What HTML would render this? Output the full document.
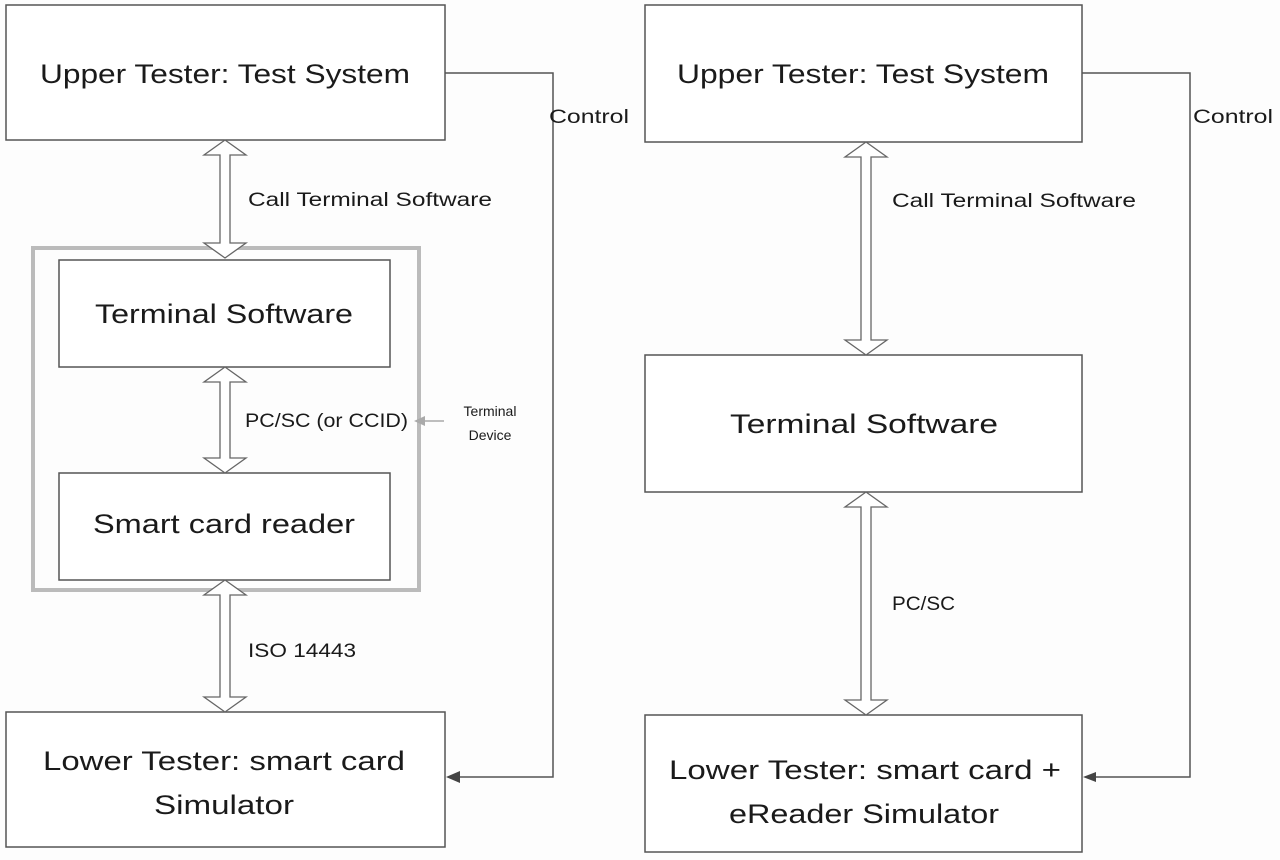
<!DOCTYPE html>
<html><head><meta charset="utf-8"><style>html,body{margin:0;padding:0;background:#fff}svg{display:block}</style></head>
<body>
<svg width="1280" height="860" viewBox="0 0 1280 860" xmlns="http://www.w3.org/2000/svg" font-family="Liberation Sans, sans-serif" fill="#1a1a1a">
<rect width="1280" height="860" fill="#fdfdfd"/>
<g fill="#fff" stroke="#555" stroke-width="1.5">
<rect x="6" y="5" width="439" height="135"/>
<rect x="33" y="248" width="386" height="342" fill="none" stroke="#bbb" stroke-width="4"/>
<rect x="59" y="260" width="331" height="107"/>
<rect x="59" y="473" width="331" height="107"/>
<rect x="6" y="712" width="439" height="135"/>
<rect x="645" y="5" width="437" height="137"/>
<rect x="645" y="355" width="437" height="137"/>
<rect x="645" y="715" width="437" height="137"/>
</g>
<g fill="#fff" stroke="#666" stroke-width="1.3">
<path d="M225,140 L246,155 L230,155 L230,243 L246,243 L225,258 L204,243 L220,243 L220,155 L204,155 Z"/>
<path d="M225,367 L246,382 L230,382 L230,458 L246,458 L225,473 L204,458 L220,458 L220,382 L204,382 Z"/>
<path d="M225,580 L246,595 L230,595 L230,697 L246,697 L225,712 L204,697 L220,697 L220,595 L204,595 Z"/>
<path d="M866,142 L887,157 L871,157 L871,340 L887,340 L866,355 L845,340 L861,340 L861,157 L845,157 Z"/>
<path d="M866,492 L887,507 L871,507 L871,700 L887,700 L866,715 L845,700 L861,700 L861,507 L845,507 Z"/>
</g>
<g fill="none" stroke="#555" stroke-width="1.5">
<polyline points="445,73 553,73 553,777 458,777"/>
<polyline points="1082,73 1190,73 1190,777 1094,777"/>
<line x1="444" y1="421" x2="422" y2="421" stroke="#aaa"/>
</g>
<path d="M446,777 L460,771 L460,783 Z" fill="#444"/>
<path d="M1083,777 L1096,772 L1096,782 Z" fill="#444"/>
<path d="M414,421 L425,416 L425,426 Z" fill="#aaa"/>
<g font-size="27" text-anchor="middle">
<text x="225" y="83" textLength="370" lengthAdjust="spacingAndGlyphs">Upper Tester: Test System</text>
<text x="224" y="323" textLength="258" lengthAdjust="spacingAndGlyphs">Terminal Software</text>
<text x="224" y="533" textLength="262" lengthAdjust="spacingAndGlyphs">Smart card reader</text>
<text x="224" y="770" textLength="362" lengthAdjust="spacingAndGlyphs">Lower Tester: smart card</text>
<text x="224" y="814" textLength="140" lengthAdjust="spacingAndGlyphs">Simulator</text>
<text x="863" y="83" textLength="372" lengthAdjust="spacingAndGlyphs">Upper Tester: Test System</text>
<text x="864" y="433" textLength="268" lengthAdjust="spacingAndGlyphs">Terminal Software</text>
<text x="865" y="779" textLength="392" lengthAdjust="spacingAndGlyphs">Lower Tester: smart card +</text>
<text x="864" y="823" textLength="270" lengthAdjust="spacingAndGlyphs">eReader Simulator</text>
</g>
<g font-size="19">
<text x="549" y="123" textLength="80" lengthAdjust="spacingAndGlyphs">Control</text>
<text x="1193" y="123" textLength="80" lengthAdjust="spacingAndGlyphs">Control</text>
<text x="248" y="206" textLength="244" lengthAdjust="spacingAndGlyphs">Call Terminal Software</text>
<text x="892" y="207" textLength="244" lengthAdjust="spacingAndGlyphs">Call Terminal Software</text>
<text x="245" y="427" textLength="163" lengthAdjust="spacingAndGlyphs">PC/SC (or CCID)</text>
<text x="248" y="657" textLength="108" lengthAdjust="spacingAndGlyphs">ISO 14443</text>
<text x="892" y="610" textLength="63" lengthAdjust="spacingAndGlyphs">PC/SC</text>
</g>
<g font-size="14" text-anchor="middle">
<text x="490" y="416">Terminal</text>
<text x="490" y="440">Device</text>
</g>
</svg>
</body></html>
